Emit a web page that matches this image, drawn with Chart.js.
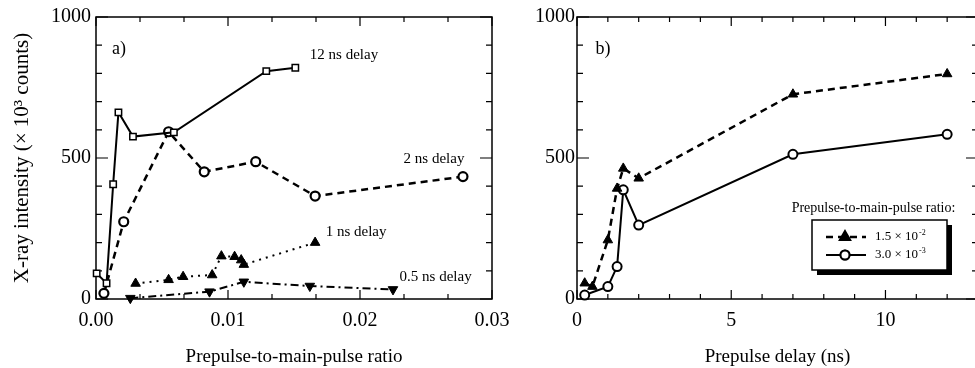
<!DOCTYPE html>
<html>
<head>
<meta charset="utf-8">
<script src="https://cdn.jsdelivr.net/npm/chart.js@4"></script>
<style>
html,body{margin:0;padding:0;background:#fff;overflow:hidden}
#wrap{position:relative;width:975px;height:368px;overflow:hidden;background:#fff}
canvas{position:absolute;top:0}
#chartA{left:0}
#chartB{left:520px}
</style>
</head>
<body>
<div id="wrap">
<canvas id="chartA" width="520" height="368"></canvas>
<canvas id="chartB" width="490" height="368"></canvas>
</div>
<script>
// panel a) intensity vs prepulse-to-main-pulse ratio, one series per delay
const ratio12 = [0.00005, 0.0008, 0.0013, 0.0017, 0.0028, 0.0059, 0.0129, 0.0151]
const int12 = [91, 56, 407, 662, 576, 591, 808, 820]
const ratio2 = [0.0006, 0.0021, 0.0055, 0.0082, 0.0121, 0.0166, 0.0278]
const int2 = [20, 274, 593, 451, 487, 365, 434]
const ratio1 = [0.0030, 0.0055, 0.0066, 0.0088, 0.0095, 0.0105, 0.0110, 0.0112, 0.0166]
const int1 = [55, 68, 79, 85, 152, 150, 138, 122, 200]
const ratio05 = [0.0026, 0.0086, 0.0112, 0.0162, 0.0225]
const int05 = [3, 26, 61, 46, 34]

// panel b) intensity vs prepulse delay, two ratios
const delayHigh = [0.25, 0.5, 1.0, 1.3, 1.5, 2.0, 7.0, 12.0]
const intHigh = [56, 44, 209, 392, 463, 428, 726, 798]
const delayLow = [0.25, 1.0, 1.3, 1.5, 2.0, 7.0, 12.0]
const intLow = [14, 44, 115, 387, 262, 513, 584]

const yTicks = [0, 500, 1000]
const xTicksA = [0, 0.01, 0.02, 0.03]
const xTicksB = [0, 5, 10]

const serif = 'Liberation Serif'
const pts = (xs, ys) => xs.map((v, i) => ({x: v, y: ys[i]}))

// frame + inward ticks on all four sides
const frameTicks = {
  id: 'frameTicks',
  beforeDatasetsDraw(chart, args, o) {
    const {ctx, chartArea: a, scales: {x, y}} = chart
    ctx.save()
    ctx.strokeStyle = '#000'
    ctx.lineWidth = 1.5
    ctx.strokeRect(a.left, a.top, a.right - a.left, a.bottom - a.top)
    ctx.lineWidth = 1.2
    ctx.beginPath()
    const isMajor = (v, m) => Math.abs(v / m - Math.round(v / m)) < 1e-6
    const nx = Math.round((x.max - x.min) / o.xMinor)
    for (let i = 0; i <= nx; i++) {
      const v = x.min + i * o.xMinor
      const px = x.getPixelForValue(v)
      const len = isMajor(v, o.xMajor) ? 9 : 5
      ctx.moveTo(px, a.bottom); ctx.lineTo(px, a.bottom - len)
      ctx.moveTo(px, a.top); ctx.lineTo(px, a.top + len)
    }
    const ny = Math.round((y.max - y.min) / o.yMinor)
    for (let i = 0; i <= ny; i++) {
      const v = y.min + i * o.yMinor
      const py = y.getPixelForValue(v)
      const len = isMajor(v, o.yMajor) ? 12 : 6
      ctx.moveTo(a.left, py); ctx.lineTo(a.left + len, py)
      ctx.moveTo(a.right, py); ctx.lineTo(a.right - len, py)
    }
    ctx.stroke()
    ctx.restore()
  }
}

// text notes placed in data coordinates
const notes = {
  id: 'notes',
  afterDraw(chart, args, o) {
    const {ctx, scales: {x, y}} = chart
    ctx.save()
    ctx.fillStyle = '#000'
    ctx.textBaseline = 'middle'
    for (const n of o.items) {
      ctx.font = n.size + 'px "' + serif + '"'
      ctx.textAlign = n.align || 'left'
      ctx.fillText(n.text, x.getPixelForValue(n.x), y.getPixelForValue(n.y))
    }
    ctx.restore()
  }
}

function supText(ctx, base, sup, x, y, size) {
  ctx.font = size + 'px "' + serif + '"'
  ctx.fillText(base, x, y)
  const w = ctx.measureText(base).width
  ctx.font = Math.round(size * 0.62) + 'px "' + serif + '"'
  ctx.fillText(sup, x + w + 1, y - size * 0.35)
}

// boxed legend with drop shadow for panel b
const boxLegend = {
  id: 'boxLegend',
  afterDraw(chart) {
    const {ctx} = chart
    const bx = 292, by = 220, bw = 135, bh = 50
    ctx.save()
    ctx.fillStyle = '#000'
    ctx.textBaseline = 'middle'
    ctx.textAlign = 'center'
    ctx.font = '14px "' + serif + '"'
    ctx.fillText('Prepulse-to-main-pulse ratio:', bx + bw / 2 - 6, 208)
    ctx.fillRect(bx + 5, by + 5, bw, bh)
    ctx.fillStyle = '#fff'
    ctx.fillRect(bx, by, bw, bh)
    ctx.strokeStyle = '#000'
    ctx.lineWidth = 1.5
    ctx.strokeRect(bx, by, bw, bh)
    ctx.textAlign = 'left'
    const rows = [[0, 237, '1.5 × 10', '-2'], [1, 255, '3.0 × 10', '-3']]
    for (const [di, ry, base, sup] of rows) {
      const ds = chart.data.datasets[di]
      ctx.strokeStyle = '#000'
      ctx.lineWidth = ds.borderWidth
      ctx.setLineDash(ds.borderDash || [])
      ctx.beginPath()
      ctx.moveTo(bx + 14, ry); ctx.lineTo(bx + 54, ry)
      ctx.stroke()
      ctx.setLineDash([])
      Chart.helpers.drawPoint(ctx, {
        pointStyle: ds.pointStyle, rotation: 0, radius: ds.pointRadius,
        borderWidth: ds.pointBorderWidth
      }, bx + 33, ry)
      ctx.fillStyle = ds.pointBackgroundColor
      ctx.strokeStyle = '#000'
      ctx.lineWidth = ds.pointBorderWidth
      ctx.fill()
      ctx.stroke()
      ctx.fillStyle = '#000'
      supText(ctx, base, sup, bx + 63, ry, 13)
    }
    ctx.restore()
  }
}

const axisFont = {family: serif, size: 20}

new Chart(document.getElementById('chartA'), {
  type: 'scatter',
  data: {
    datasets: [
      {label: '12 ns delay', data: pts(ratio12, int12), showLine: true, clip: false,
        borderColor: '#000', borderWidth: 2, pointStyle: 'rect', pointRadius: 4.5,
        pointBackgroundColor: '#fff', pointBorderColor: '#000', pointBorderWidth: 1.5},
      {label: '2 ns delay', data: pts(ratio2, int2), showLine: true, clip: false,
        borderColor: '#000', borderWidth: 2.5, borderDash: [7, 5], pointStyle: 'circle', pointRadius: 4.5,
        pointBackgroundColor: '#fff', pointBorderColor: '#000', pointBorderWidth: 2.2},
      {label: '1 ns delay', data: pts(ratio1, int1), showLine: true, clip: false,
        borderColor: '#000', borderWidth: 2, borderDash: [2, 5], pointStyle: 'triangle', pointRadius: 5.5,
        pointBackgroundColor: '#000', pointBorderColor: '#000', pointBorderWidth: 1},
      {label: '0.5 ns delay', data: pts(ratio05, int05), showLine: true, clip: false,
        borderColor: '#000', borderWidth: 2, borderDash: [8, 4, 2, 4], pointStyle: 'triangle', pointRotation: 180,
        pointRadius: 5.5, pointBackgroundColor: '#000', pointBorderColor: '#000', pointBorderWidth: 1}
    ]
  },
  options: {
    responsive: false,
    animation: false,
    layout: {padding: {top: 17, right: 28, left: 0, bottom: 0}},
    plugins: {
      legend: {display: false},
      tooltip: {enabled: false},
      frameTicks: {xMinor: 0.01 / 3, xMajor: 0.01, yMinor: 100, yMajor: 500},
      notes: {items: [
        {text: 'a)', x: 0.00174, y: 887, size: 18, align: 'center'},
        {text: '12 ns delay', x: 0.0162, y: 865, size: 15},
        {text: '2 ns delay', x: 0.0233, y: 496, size: 15},
        {text: '1 ns delay', x: 0.0174, y: 238, size: 15},
        {text: '0.5 ns delay', x: 0.0230, y: 78, size: 15}
      ]}
    },
    scales: {
      x: {
        type: 'linear', min: 0, max: 0.03,
        grid: {display: false, drawTicks: false}, border: {display: false},
        afterBuildTicks: s => { s.ticks = xTicksA.map(v => ({value: v})) },
        afterFit: s => { s.height = 69 },
        ticks: {color: '#000', font: axisFont, padding: 10, maxRotation: 0, callback: v => v.toFixed(2)},
        title: {display: true, text: 'Prepulse-to-main-pulse ratio', color: '#000',
          font: {family: serif, size: 19}, padding: {top: 0, bottom: 0}}
      },
      y: {
        min: 0, max: 1000,
        grid: {display: false, drawTicks: false}, border: {display: false},
        afterBuildTicks: s => { s.ticks = yTicks.map(v => ({value: v})) },
        afterFit: s => { s.width = 96 },
        ticks: {color: '#000', font: axisFont, padding: 5, callback: v => String(v)},
        title: {display: true, text: 'X-ray intensity (× 10³ counts)', color: '#000',
          font: {family: serif, size: 21}, padding: {top: 10, bottom: 0}}
      }
    }
  },
  plugins: [frameTicks, notes]
})

new Chart(document.getElementById('chartB'), {
  type: 'scatter',
  data: {
    datasets: [
      {label: '1.5 × 10⁻²', data: pts(delayHigh, intHigh), showLine: true, clip: false,
        borderColor: '#000', borderWidth: 2.5, borderDash: [7, 5], pointStyle: 'triangle', pointRadius: 5.5,
        pointBackgroundColor: '#000', pointBorderColor: '#000', pointBorderWidth: 1},
      {label: '3.0 × 10⁻³', data: pts(delayLow, intLow), showLine: true, clip: false,
        borderColor: '#000', borderWidth: 2, pointStyle: 'circle', pointRadius: 4.5,
        pointBackgroundColor: '#fff', pointBorderColor: '#000', pointBorderWidth: 2}
    ]
  },
  options: {
    responsive: false,
    animation: false,
    layout: {padding: {top: 17, right: 32, left: 0, bottom: 0}},
    plugins: {
      legend: {display: false},
      tooltip: {enabled: false},
      frameTicks: {xMinor: 1, xMajor: 5, yMinor: 100, yMajor: 500},
      notes: {items: [
        {text: 'b)', x: 0.84, y: 887, size: 18, align: 'center'}
      ]}
    },
    scales: {
      x: {
        type: 'linear', min: 0, max: 13,
        grid: {display: false, drawTicks: false}, border: {display: false},
        afterBuildTicks: s => { s.ticks = xTicksB.map(v => ({value: v})) },
        afterFit: s => { s.height = 69 },
        ticks: {color: '#000', font: axisFont, padding: 10, maxRotation: 0},
        title: {display: true, text: 'Prepulse delay (ns)', color: '#000',
          font: {family: serif, size: 19}, padding: {top: 0, bottom: 0}}
      },
      y: {
        min: 0, max: 1000,
        grid: {display: false, drawTicks: false}, border: {display: false},
        afterBuildTicks: s => { s.ticks = yTicks.map(v => ({value: v})) },
        afterFit: s => { s.width = 57 },
        ticks: {color: '#000', font: axisFont, padding: 2, callback: v => String(v)}
      }
    }
  },
  plugins: [frameTicks, notes, boxLegend]
})
</script>
</body>
</html>
